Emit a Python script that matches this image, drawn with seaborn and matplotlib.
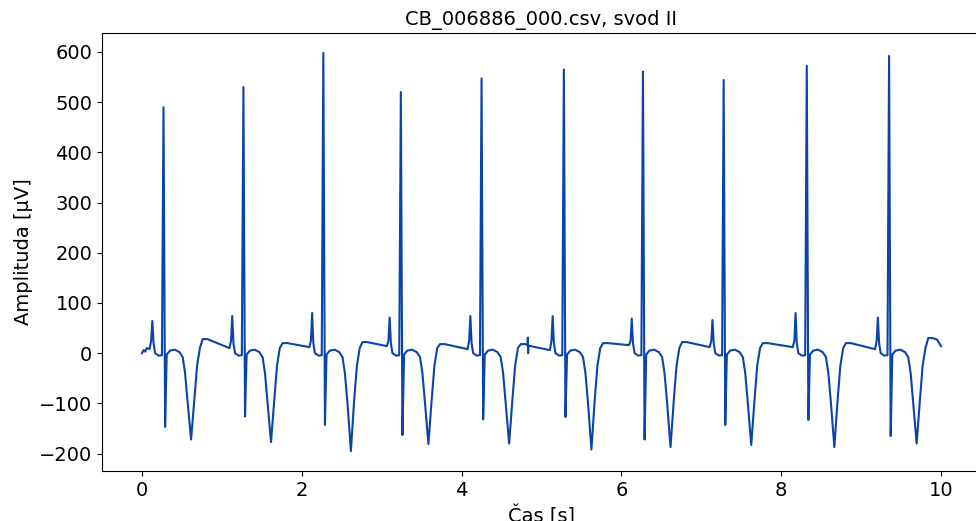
import matplotlib
matplotlib.use('Agg')
import matplotlib.pyplot as plt
import seaborn as sns
import pandas as pd

# values, one entry per heartbeat
r_times = [0.27, 1.27, 2.27, 3.24, 4.25, 5.28, 6.27, 7.28, 8.32, 9.35]
r_peaks = [490, 530, 598, 520, 547, 565, 561, 544, 572, 592]
s_troughs = [-147, -126, -143, -163, -132, -127, -172, -143, -133, -165]
p_peaks = [64, 74, 80, 71, 74, 74, 69, 66, 80, 71]
t_troughs = [-172, -177, -195, -181, -180, -192, -187, -183, -187, -180]
pre_p = [8, 10, 12, 14, 8, 6, 16, 12, 12, 8]        # baseline just before P wave
post_t = [28, 20, 22, 18, 18, 20, 22, 20, 20, 30]   # baseline just after T wave

# beat shape around each R peak: time offset [s] and level [uV]
# (None = take the per-beat value from the arrays above)
beat_offsets = [-0.175, -0.155, -0.14, -0.125, -0.105, -0.06, -0.02, 0.0, 0.02,
                0.04, 0.08, 0.14, 0.2, 0.24, 0.27, 0.30, 0.345, 0.385, 0.42,
                0.455, 0.49, 0.55]
beat_levels = ['pre_p', 25, 'p', 20, 0, -5, -4, 'r', 's',
               -3, 5, 7, 2, -8, -40, -95, 't', -95, -25,
               10, 'post_t', 'post_t']

# start / end of recording and a small artifact near 4.83 s
start_t = [0.0, 0.02, 0.04, 0.06]
start_v = [0, 6, 3, 10]
end_t = [9.95, 10.0]
end_v = [27, 14]
artifact_t = [4.826, 4.829, 4.833, 4.837]
artifact_v = [16, 31, 0, 15]

time, amp = list(start_t), list(start_v)
for i, r in enumerate(r_times):
    lookup = {'pre_p': pre_p[i], 'p': p_peaks[i], 'r': r_peaks[i],
              's': s_troughs[i], 't': t_troughs[i], 'post_t': post_t[i]}
    for off, lev in zip(beat_offsets, beat_levels):
        time.append(r + off)
        amp.append(lookup[lev] if isinstance(lev, str) else lev)
time += artifact_t + end_t
amp += artifact_v + end_v

df = pd.DataFrame({'t': time, 'v': amp}).sort_values('t')

fig = plt.figure(figsize=(9.76, 5.21), dpi=100)
ax = fig.add_axes([0.1045, 0.096, 0.9006, 0.8407])
sns.lineplot(data=df, x='t', y='v', ax=ax, color='#0a44a8', linewidth=1.5,
             sort=False, estimator=None)

ax.set_title('CB_006886_000.csv, svod II', fontsize=14)
ax.set_xlabel('Čas [s]', fontsize=14)
ax.set_ylabel('Amplituda [µV]', fontsize=14)
ax.tick_params(labelsize=14)

fig.savefig('out.png', dpi=100)
